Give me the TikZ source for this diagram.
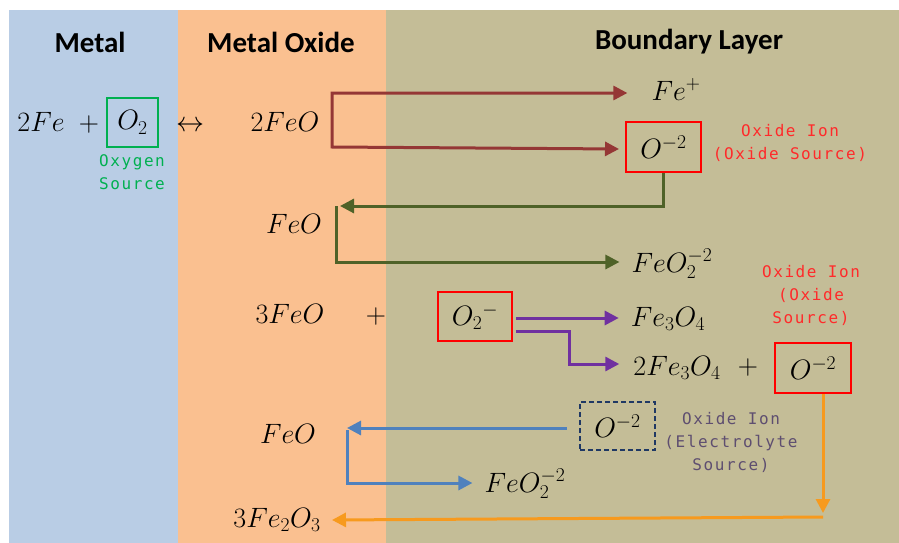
\RequirePackage{fix-cm}
\documentclass[tikz,border=0pt]{standalone}
\usepackage{fontspec}
\newfontfamily\titlefont{Carlito}
\newfontfamily\monofont[LetterSpace=10]{DejaVu Sans Mono}
\usetikzlibrary{arrows.meta}
\definecolor{metalbg}{HTML}{B9CDE5}
\definecolor{oxidebg}{HTML}{FAC090}
\definecolor{boundbg}{HTML}{C4BD97}
\definecolor{redarr}{HTML}{953735}
\definecolor{greenarr}{HTML}{4F6228}
\definecolor{purplearr}{HTML}{7030A0}
\definecolor{bluearr}{HTML}{4F81BD}
\definecolor{orangearr}{HTML}{F79A1E}
\definecolor{boxred}{HTML}{FF0000}
\definecolor{labred}{HTML}{FF2A2A}
\definecolor{oxgreen}{HTML}{00B050}
\definecolor{navy}{HTML}{1F3864}
\definecolor{elecgray}{HTML}{5E4E70}
\tikzset{
  chem/.style={font=\fontsize{28}{32}\selectfont, inner sep=0pt, anchor=base},
  paneltitle/.style={font=\titlefont\bfseries\fontsize{29}{34}\selectfont, inner sep=0pt},
  mono/.style={font=\monofont\fontsize{16}{23}\selectfont, align=center, inner sep=0pt},
  ionbox/.style={draw=boxred, line width=2pt, minimum width=75pt, minimum height=50pt,
    inner sep=0pt, font=\fontsize{28}{32}\selectfont},
  conn/.style={line width=3pt, -{Triangle[length=14pt,width=14pt]}},
}
\begin{document}
\begin{tikzpicture}[x=1pt,y=-1pt]
\useasboundingbox (0,0) rectangle (899,543);
% panels
\fill[metalbg] (9,10) rectangle (178,543);
\fill[oxidebg] (178,10) rectangle (386,543);
\fill[boundbg] (386,10) rectangle (899,543);
% titles
\node[paneltitle] (tmetal) at (90,42) {Metal};
\node[paneltitle] (toxide) at (281,42) {Metal Oxide};
\node[paneltitle] (tbound) at (689,42) {Boundary Layer};
% row 1
\node[chem] (fe2) at (41,131) {$2Fe$};
\node[chem] (plus1) at (89,131) {$+$};
\node[draw=oxgreen, line width=2pt, minimum width=51pt, minimum height=49pt, inner sep=0pt,
  font=\fontsize{28}{32}\selectfont] (o2) at (132.5,122.5) {$O_2$};
\node[mono, text=oxgreen] (oxysrc) at (132,172) {Oxygen\\Source};
\node[chem] (lr) at (190,131) {$\leftrightarrow$};
\node[chem] (feo2) at (285,131) {$2FeO$};
\node[chem] (feplus) at (676,100) {$Fe^{+}$};
\node[ionbox] (om1) at (663.5,147) {$O^{-2}$};
\node[mono, text=labred] (oxlab1) at (790,143) {Oxide Ion\\(Oxide Source)};
% row 2
\node[chem] (feoB) at (294,233) {$FeO$};
\node[chem] (feo2mA) at (672,272) {$FeO_2^{-2}$};
% row 3
\node[chem] (feo3) at (290,323) {$3FeO$};
\node[chem] (plus2) at (376,323) {$+$};
\node[ionbox, minimum width=74pt, minimum height=49pt] (o2m) at (475,316.5) {$O_2{}^{-}$};
\node[chem] (fe3o4) at (668,326) {$Fe_3O_4$};
\node[chem] (fe3o4b) at (677,375) {$2Fe_3O_4$};
\node[chem] (plus3) at (748,374) {$+$};
\node[ionbox, minimum width=76pt] (om2) at (813,368) {$O^{-2}$};
\node[mono, text=labred] (oxlab2) at (811,295) {Oxide Ion\\(Oxide\\Source)};
% row 4
\node[draw=navy, line width=1.6pt, dash pattern=on 5pt off 3pt, minimum width=75pt,
  minimum height=48pt, inner sep=0pt, font=\fontsize{28}{32}\selectfont] (om3) at (617.5,426) {$O^{-2}$};
\node[mono, text=elecgray] (elab) at (731,442) {Oxide Ion\\(Electrolyte\\Source)};
\node[chem] (feoD) at (288,443) {$FeO$};
\node[chem] (feo2mB) at (525,492) {$FeO_2^{-2}$};
\node[chem] (fe2o3) at (277,527) {$3Fe_2O_3$};
% connectors
\coordinate (rc1) at (332,93);
\coordinate (rc2) at (332,147);
\draw[redarr, line width=3pt, {Triangle[length=14pt,width=14pt]}-{Triangle[length=14pt,width=14pt]}]
  ([xshift=-6pt,yshift=-2pt]om1.west) -- (rc2) -- (rc1) -- ([xshift=-24pt]feplus.west |- rc1);
\coordinate (gc1) at (340,206);
\coordinate (gc2) at (336,206);
\coordinate (gc3) at (336,262);
\draw[greenarr, conn] (om1.south) -- (om1.south |- gc1) -- (gc1);
\draw[greenarr, conn] (gc2) -- (gc3) -- ([xshift=-12pt]feo2mA.west |- gc3);
\coordinate (pc1) at (516,318);
\coordinate (pc2) at (516,331);
\coordinate (pc3) at (569,331);
\coordinate (pc4) at (569,364);
\draw[purplearr, conn] (pc1) -- ([xshift=-12pt]fe3o4.west |- pc1);
\draw[purplearr, conn] (pc2) -- (pc3) -- (pc4) -- ([xshift=-14pt]fe3o4b.west |- pc4);
\coordinate (oc1) at (823,513);
\coordinate (oc2) at (823,517);
\coordinate (oc3) at (332,520);
\draw[orangearr, conn] (om2.south -| oc1) -- (oc1);
\draw[orangearr, conn] (oc2) -- (oc3);
\coordinate (bc1) at (347,428);
\coordinate (bc2) at (347,430);
\coordinate (bc3) at (347,483);
\draw[bluearr, conn] ([xshift=-12pt]om3.west |- bc1) -- (bc1);
\draw[bluearr, conn] (bc2) -- (bc3) -- ([xshift=-12pt]feo2mB.west |- bc3);
\end{tikzpicture}
\end{document}
